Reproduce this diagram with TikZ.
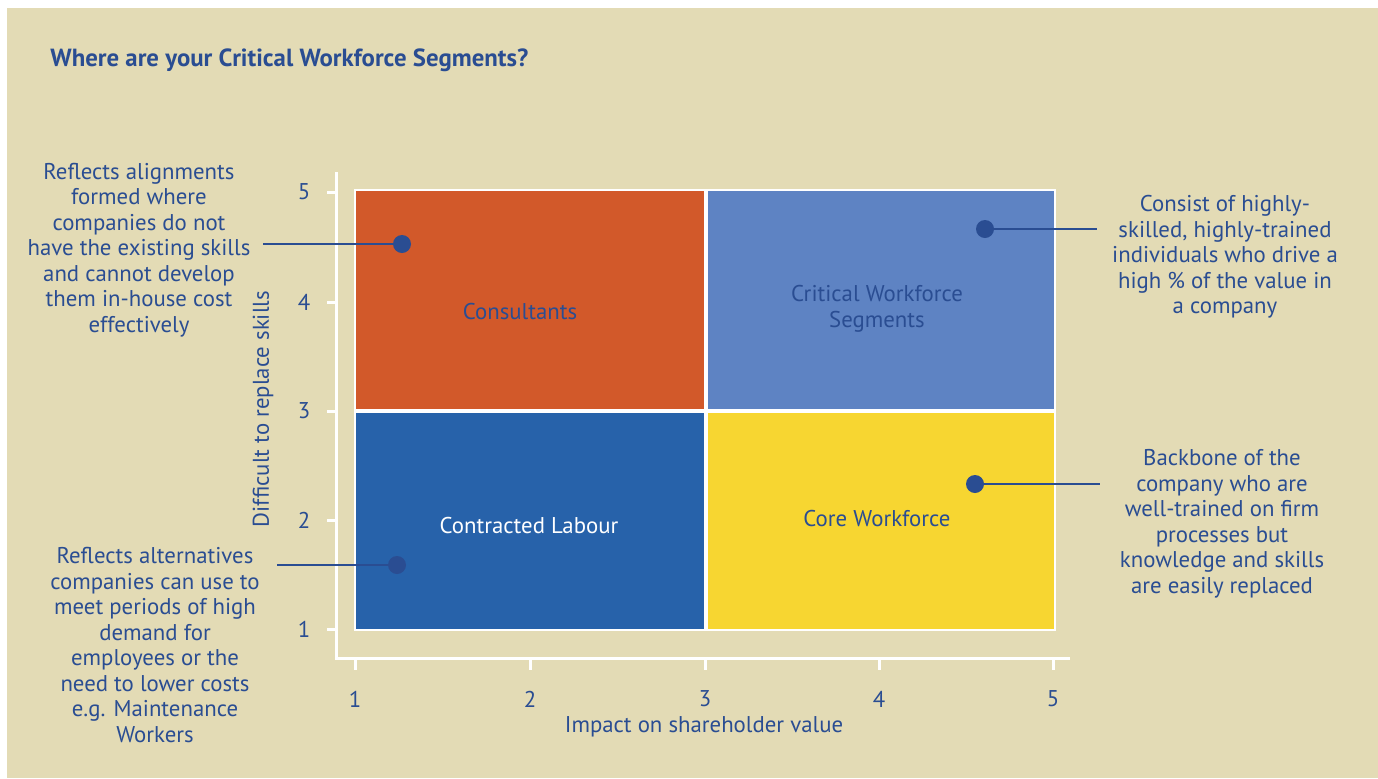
\documentclass[tikz,border=0pt]{standalone}
\usepackage{fontspec}
\setmainfont{PT Sans}
\usetikzlibrary{positioning}
\definecolor{panel}{HTML}{E3DBB5}
\definecolor{navy}{HTML}{2A4D92}
\definecolor{consult}{HTML}{D2592A}
\definecolor{critical}{HTML}{5E83C3}
\definecolor{labour}{HTML}{2762AA}
\definecolor{core}{HTML}{F7D631}
\tikzset{%
  quad/.style={draw=white, line width=1.3pt},
  axis/.style={draw=white, line width=1.5pt},
  note/.style={align=center, text=navy, inner sep=0pt, font=\fontsize{11.4}{12.75}\selectfont},
  tick/.style={text=navy, inner sep=0pt, font=\fontsize{11.4}{12.75}\selectfont},
  dot/.style={circle, fill=navy, minimum size=9pt, inner sep=0pt},
  lead/.style={draw=navy, line width=1pt}%
}

\begin{document}
\begin{tikzpicture}[x=0.5pt, y=-0.5pt]

\useasboundingbox (0,0) rectangle (1378,778);
\fill[white] (0,0) rectangle (1378,778);
\fill[panel] (7,8) rectangle (1378,778);

% Title
\node[anchor=west, inner sep=0pt, text=navy, font=\fontsize{12.4}{14}\selectfont\bfseries] (title) at (50,60) {Where are your Critical Workforce Segments?};

% Axes
\draw[axis] (336,172) -- (336,658) -- (1070,658);
\foreach \v/\y in {1/629,2/520,3/411,4/302,5/192}{
  \draw[axis] (327,\y) -- (336,\y);
  \node[tick] (y\v) at (304,\y) {\v};
}
\foreach \v/\x in {1/355,2/530,3/705,4/879,5/1053}{
  \draw[axis] (\x,658) -- (\x,670);
  \node[tick] (x\v) at (\x,699) {\v};
}
\node[tick] (xlabel) at (704,727) {Impact on shareholder value};
\node[tick, rotate=90] (ylabel) at (263,409) {Difficult to replace skills};

% Quadrants
\filldraw[quad, fill=consult]  (355,190) rectangle (705,410);
\filldraw[quad, fill=critical] (707,190) rectangle (1055,410);
\filldraw[quad, fill=labour]   (355,412) rectangle (705,630);
\filldraw[quad, fill=core]     (707,412) rectangle (1055,630);

\node[tick] (consultants) at (520,312) {Consultants};
\node[tick, align=center] (cws) at (877,309) {Critical Workforce\\Segments};
\node[tick, text=white] (contracted) at (529,526) {Contracted Labour};
\node[tick] (coreworkforce) at (877,519) {Core Workforce};

% Callouts
\node[dot] (d1) at (402,244) {};
\node[dot] (d2) at (985,229) {};
\node[dot] (d3) at (397,565) {};
\node[dot] (d4) at (975,484) {};

\node[note] (n1) at (139,250) {Reflects alignments\\formed where\\companies do not\\have the existing skills\\and cannot develop\\them in-house cost\\effectively};
\node[note] (n2) at (1225,257) {Consist of highly-\\skilled, highly-trained\\individuals who drive a\\high \% of the value in\\a company};
\node[note] (n3) at (155,645) {Reflects alternatives\\companies can use to\\meet periods of high\\demand for\\employees or the\\need to lower costs\\e.g. Maintenance\\Workers};
\node[note] (n4) at (1222,524) {Backbone of the\\company who are\\well-trained on firm\\processes but\\knowledge and skills\\are easily replaced};

\coordinate (e1) at (263,244);
\coordinate (e2) at (1097,229);
\coordinate (e3) at (277,565);
\coordinate (e4) at (1100,484);
\draw[lead] (e1) -- (d1);
\draw[lead] (d2) -- (e2);
\draw[lead] (e3) -- (d3);
\draw[lead] (d4) -- (e4);

\end{tikzpicture}
\end{document}
